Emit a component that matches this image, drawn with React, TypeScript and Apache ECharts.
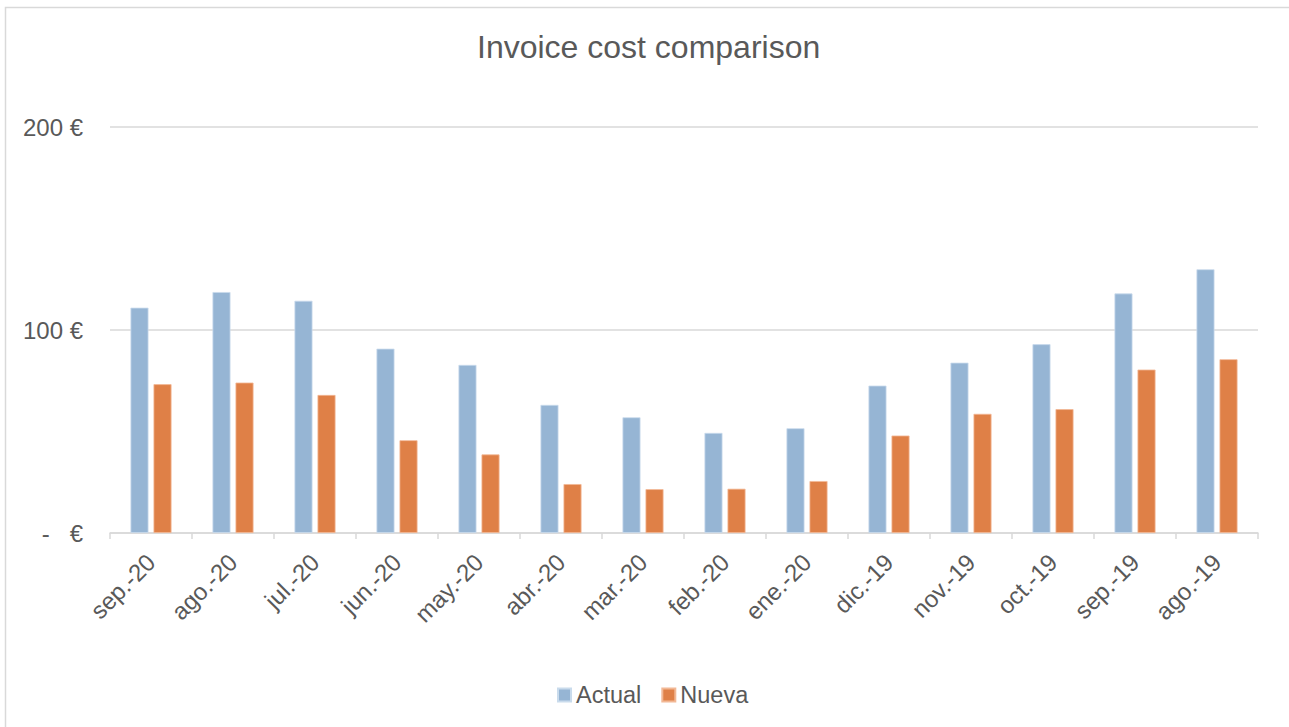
import React, { useEffect, useRef } from "react";
import * as echarts from "echarts";

const months = [
  "sep.-20", "ago.-20", "jul.-20", "jun.-20", "may.-20", "abr.-20", "mar.-20",
  "feb.-20", "ene.-20", "dic.-19", "nov.-19", "oct.-19", "sep.-19", "ago.-19",
];
const actualCost = [111.0, 118.7, 114.4, 90.8, 82.8, 63.1, 57.0, 49.3, 51.6, 72.6, 83.9, 93.0, 118.0, 129.9];
const nuevaCost = [73.3, 74.1, 68.0, 45.7, 38.7, 24.1, 21.6, 21.8, 25.6, 48.0, 58.7, 61.0, 80.5, 85.6];
const seriesNames = ["Actual", "Nueva"];
const chartTitle = "Invoice cost comparison";

const FONT = "'Liberation Sans', Arial, sans-serif";
const TEXT = "#595959";
const LINE = "#d9d9d9";

// accounting-style euro labels: zero shows as a dash
const euro = (v: number) => (v === 0 ? "-   €" : `${v} €`);

export default function App() {
  const ref = useRef<HTMLDivElement>(null);

  useEffect(() => {
    document.body.style.margin = "0";
    const chart = echarts.init(ref.current!, undefined, { renderer: "svg" });
    chart.setOption({
      animation: false,
      backgroundColor: "#ffffff",
      textStyle: { fontFamily: FONT },
      graphic: [
        {
          type: "rect",
          shape: { x: 5.5, y: 7.5, width: 1400, height: 800 },
          style: { fill: "none", stroke: LINE, lineWidth: 1.5 },
          silent: true,
        },
      ],
      title: {
        text: chartTitle,
        left: 477,
        top: 31,
        padding: 0,
        textStyle: { fontFamily: FONT, fontSize: 32, fontWeight: "normal", color: TEXT },
      },
      legend: {
        data: seriesNames,
        left: 557,
        top: 683,
        padding: 0,
        icon: "rect",
        itemWidth: 13,
        itemHeight: 13,
        itemGap: 20,
        textStyle: { fontFamily: FONT, fontSize: 23.5, color: TEXT },
      },
      grid: { left: 110, right: 31, top: 127, bottom: 194, containLabel: false },
      xAxis: {
        type: "category",
        data: months,
        axisLine: { lineStyle: { color: LINE, width: 1.5 } },
        axisTick: { show: true, alignWithLabel: false, length: 6, lineStyle: { color: LINE, width: 1.5 } },
        axisLabel: {
          rotate: 45,
          interval: 0,
          margin: 25,
          fontFamily: FONT,
          fontSize: 24,
          color: TEXT,
        },
      },
      yAxis: {
        type: "value",
        min: 0,
        max: 200,
        interval: 100,
        axisLine: { show: false },
        axisTick: { show: false },
        splitLine: { lineStyle: { color: LINE, width: 1.5 } },
        axisLabel: {
          formatter: euro,
          margin: 27,
          fontFamily: FONT,
          fontSize: 24,
          color: TEXT,
        },
      },
      series: [
        {
          name: seriesNames[0],
          type: "bar",
          data: actualCost,
          barWidth: 18,
          barGap: "28%",
          itemStyle: { color: "#96b5d4", borderColor: "#c9dbec", borderWidth: 0.8 },
        },
        {
          name: seriesNames[1],
          type: "bar",
          data: nuevaCost,
          barWidth: 18,
          barGap: "28%",
          itemStyle: { color: "#df8047", borderColor: "#f2b895", borderWidth: 0.8 },
        },
      ],
    });
    return () => chart.dispose();
  }, []);

  return <div ref={ref} style={{ width: 1289, height: 727 }} />;
}
